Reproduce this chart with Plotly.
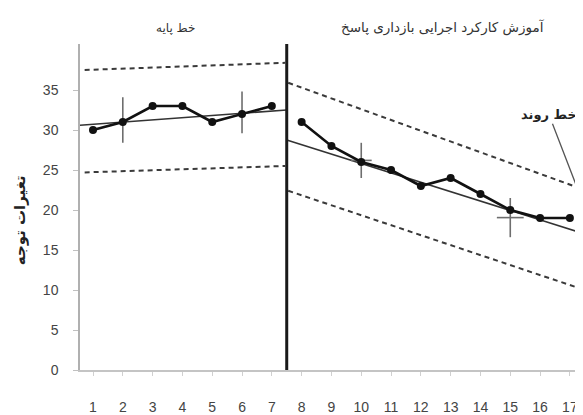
import plotly.graph_objects as go

# ---- data ----
sessions_base = [1, 2, 3, 4, 5, 6, 7]
values_base = [30, 31, 33, 33, 31, 32, 33]
sessions_trt = [8, 9, 10, 11, 12, 13, 14, 15, 16, 17]
values_trt = [31, 28, 26, 25, 23, 24, 22, 20, 19, 19]

trend_base_x = [0.56, 7.5]
trend_base_y = [30.6, 32.5]
band_base_x = [0.72, 7.45]
band_base_upper = [37.5, 38.4]
band_base_lower = [24.7, 25.5]

trend_trt_x = [7.5, 17.5]
trend_trt_y = [28.75, 17.0]
band_trt_x = [7.55, 17.5]
band_trt_upper = [35.9, 22.5]
band_trt_lower = [22.4, 10.0]

cross_x = [2, 6, 10, 15]
cross_y = [31.25, 32.2, 26.2, 19.05]
cross_dy = [2.85, 2.6, 2.2, 2.45]
cross_dx = [0, 0, 0.35, 0.45]

x_ticks = list(range(1, 18))
y_ticks = [0, 5, 10, 15, 20, 25, 30, 35]
y_top = 40.75

title_base = "خط پایه"
title_trt = "آموزش کارکرد اجرایی بازداری پاسخ"
y_title = "تغیرات توجه"
trend_label = "خط روند"

phase_x = (sessions_base[-1] + sessions_trt[0]) / 2

fig = go.Figure()

band_style = dict(color="#3a3a3a", width=2, dash="5px,4px")
trend_style = dict(color="#333333", width=1.6)

for xs, ys in [(band_base_x, band_base_upper), (band_base_x, band_base_lower),
               (band_trt_x, band_trt_upper), (band_trt_x, band_trt_lower)]:
    fig.add_trace(go.Scatter(x=xs, y=ys, mode="lines", line=band_style, hoverinfo="skip"))

for xs, ys in [(trend_base_x, trend_base_y), (trend_trt_x, trend_trt_y)]:
    fig.add_trace(go.Scatter(x=xs, y=ys, mode="lines", line=trend_style, hoverinfo="skip"))

# crosses
fig.add_trace(go.Scatter(
    x=cross_x, y=cross_y, mode="markers",
    marker=dict(size=1, color="rgba(0,0,0,0)"),
    error_y=dict(type="data", array=cross_dy, color="#6e6e6e", thickness=1.6, width=0),
    error_x=dict(type="data", array=cross_dx, color="#6e6e6e", thickness=1.6, width=0),
    hoverinfo="skip"))

# data series
for xs, ys in [(sessions_base, values_base), (sessions_trt, values_trt)]:
    fig.add_trace(go.Scatter(
        x=xs, y=ys, mode="lines+markers",
        line=dict(color="#111111", width=2.6),
        marker=dict(symbol="circle", size=8, color="#111111")))

# phase change line
fig.add_trace(go.Scatter(x=[phase_x, phase_x], y=[0, y_top], mode="lines",
                         line=dict(color="#1a1a1a", width=3), hoverinfo="skip"))

fig.update_layout(
    width=575, height=407,
    margin=dict(l=72, r=0, t=36, b=45, autoexpand=False),
    paper_bgcolor="white", plot_bgcolor="white",
    showlegend=False,
    font=dict(family="Liberation Sans, DejaVu Sans", size=14, color="#444444"),
)

fig.update_xaxes(
    range=[0.564, 17.44], tickvals=x_ticks, ticktext=[str(v) for v in x_ticks],
    showgrid=False, zeroline=False, showline=True, linecolor="#c4c4c4", linewidth=1.5,
    ticks="outside", ticklen=4, tickcolor="#d0d0d0", ticklabelstandoff=19,
    automargin=False,
)
fig.update_yaxes(
    range=[0, y_top], tickvals=y_ticks, ticktext=[str(v) for v in y_ticks],
    showgrid=False, zeroline=False, showline=True, linecolor="#b0b0b0", linewidth=1.5,
    ticks="outside", ticklen=5, tickcolor="#c0c0c0", ticklabelstandoff=12,
    automargin=False,
)

fig.add_annotation(text=title_base, xref="paper", yref="paper", x=0.189, y=1.05,
                   xanchor="center", yanchor="middle", showarrow=False,
                   font=dict(family="DejaVu Sans", size=12, color="#333333"))
fig.add_annotation(text=title_trt, xref="paper", yref="paper", x=0.722, y=1.05,
                   xanchor="center", yanchor="middle", showarrow=False,
                   font=dict(family="DejaVu Sans", size=13.5, color="#333333"))
fig.add_annotation(text="<b>" + y_title + "</b>", xref="paper", yref="paper", x=-0.119, y=0.46,
                   xanchor="center", yanchor="middle",
                   textangle=-90, showarrow=False, font=dict(family="DejaVu Sans", size=15, color="#222222"))
fig.add_annotation(text="<b>" + trend_label + "</b>", x=17.44, y=20.9, xref="x", yref="y",
                   showarrow=True, arrowhead=0, arrowwidth=1.3, arrowcolor="#555555",
                   ax=-34, ay=-88, font=dict(family="DejaVu Sans", size=13, color="#222222"))

fig.write_html("out.html")
